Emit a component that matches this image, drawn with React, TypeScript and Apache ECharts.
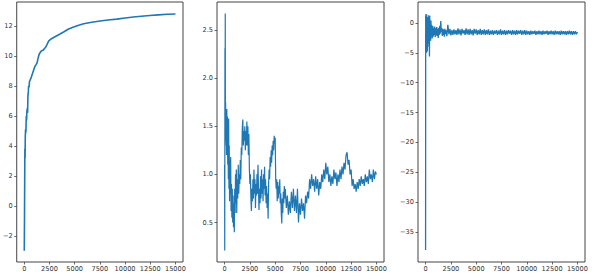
import React, { useEffect, useRef } from "react";
import * as echarts from "echarts";

// Tick positions shared by the three step axes
const stepTicks = [0, 2500, 5000, 7500, 10000, 12500, 15000];
const returnTicks = [-2, 0, 2, 4, 6, 8, 10, 12];
const lossTicks = [0.5, 1.0, 1.5, 2.0, 2.5];
const valueTicks = [-35, -30, -25, -20, -15, -10, -5, 0];

// Running mean return per training step
const meanReturn: [number, number][] = [
  [0, -3], [20, -1], [40, 1.5], [60, 3.8], [80, 3.2], [100, 4.6], [130, 5.1], [160, 4.9],
  [200, 6.0], [230, 5.7], [260, 6.3], [300, 6.5], [330, 6.2], [360, 7.3], [400, 7.6],
  [430, 8.0], [470, 7.9], [520, 8.3], [580, 8.4], [625, 8.45], [700, 8.6], [800, 8.8],
  [900, 9.0], [950, 9.1], [1050, 9.3], [1150, 9.4], [1280, 9.55], [1350, 9.8],
  [1450, 10.05], [1550, 10.2], [1650, 10.3], [1780, 10.37], [1900, 10.4], [2000, 10.5],
  [2100, 10.55], [2250, 10.75], [2430, 11.0], [2700, 11.15], [3090, 11.3], [3500, 11.45],
  [3900, 11.6], [4400, 11.8], [4900, 11.93], [5400, 12.05], [5890, 12.15], [6700, 12.25],
  [7530, 12.33], [8300, 12.4], [9180, 12.46], [10000, 12.53], [10820, 12.6],
  [11600, 12.65], [12470, 12.7], [13300, 12.74], [14200, 12.78], [15000, 12.8],
];

// Loss per training step
const loss: [number, number][] = [
  [0, 1.1], [15, 0.21], [35, 2.31], [50, 1.3], [65, 2.67], [80, 1.6], [100, 1.75],
  [130, 1.35], [160, 1.55], [190, 1.2], [220, 1.68], [250, 1.3], [280, 1.6], [310, 1.1],
  [340, 1.45], [370, 0.95], [400, 1.58], [430, 0.85], [460, 1.3], [490, 0.72], [520, 1.15],
  [560, 0.8], [600, 1.18], [640, 0.62], [680, 0.9], [720, 0.55], [760, 0.85], [800, 0.5],
  [840, 0.78], [880, 0.45], [920, 0.7], [960, 0.4], [1000, 0.85], [1040, 0.6], [1080, 1.0],
  [1120, 0.7], [1160, 1.05], [1200, 0.6], [1250, 0.95], [1300, 0.75], [1350, 1.1],
  [1400, 0.8], [1450, 1.0], [1500, 0.9], [1550, 1.15], [1600, 0.95], [1650, 1.28],
  [1700, 1.2], [1750, 1.48], [1800, 1.57], [1850, 1.3], [1900, 1.45], [1950, 1.35],
  [2000, 1.5], [2050, 1.25], [2100, 1.45], [2150, 1.3], [2200, 1.55], [2250, 1.3],
  [2300, 1.5], [2350, 1.2], [2400, 1.42], [2450, 1.05], [2500, 0.9], [2550, 1.0],
  [2600, 0.75], [2650, 0.62], [2700, 0.85], [2750, 0.72], [2800, 0.95], [2850, 0.75],
  [2900, 1.05], [2950, 0.8], [3000, 0.95], [3050, 0.65], [3100, 0.9], [3150, 0.78],
  [3200, 1.0], [3250, 0.8], [3300, 1.1], [3350, 0.85], [3400, 0.63], [3450, 0.85],
  [3500, 0.7], [3550, 0.98], [3600, 0.75], [3650, 1.05], [3700, 0.8], [3750, 0.95],
  [3800, 0.72], [3850, 1.0], [3900, 0.85], [3950, 1.08], [4000, 0.78], [4050, 0.95],
  [4100, 0.7], [4150, 0.88], [4200, 0.65], [4250, 0.8], [4300, 0.54], [4350, 0.9],
  [4400, 1.05], [4450, 0.95], [4500, 1.18], [4550, 1.08], [4600, 1.25], [4650, 1.12],
  [4700, 1.3], [4750, 1.2], [4800, 1.35], [4850, 1.25], [4900, 1.4], [4950, 1.32],
  [5000, 1.38], [5050, 0.95], [5100, 0.85], [5150, 0.95], [5200, 0.72], [5250, 0.92],
  [5300, 0.75], [5350, 0.88], [5400, 0.8], [5450, 0.95], [5500, 0.7], [5550, 0.8],
  [5600, 0.6], [5650, 0.49], [5700, 0.75], [5750, 0.6], [5800, 0.82], [5850, 0.7],
  [5900, 0.88], [5950, 0.75], [6000, 0.85], [6100, 0.65], [6200, 0.78], [6300, 0.58],
  [6400, 0.72], [6500, 0.6], [6600, 0.82], [6700, 0.65], [6800, 0.85], [6900, 0.62],
  [7000, 0.78], [7100, 0.6], [7200, 0.85], [7300, 0.5], [7400, 0.7], [7500, 0.58],
  [7600, 0.75], [7700, 0.62], [7800, 0.7], [7900, 0.54], [8000, 0.78], [8100, 0.7],
  [8200, 0.82], [8300, 0.75], [8400, 0.95], [8500, 0.85], [8600, 1.0], [8700, 0.88],
  [8800, 0.95], [8900, 0.82], [9000, 0.98], [9100, 0.85], [9200, 0.95], [9300, 0.78],
  [9400, 0.92], [9500, 0.85], [9600, 1.0], [9700, 0.92], [9800, 1.05], [9900, 0.95],
  [10000, 1.12], [10100, 1.0], [10200, 1.08], [10300, 0.92], [10400, 1.0], [10500, 0.88],
  [10600, 0.98], [10700, 0.9], [10800, 1.05], [10900, 0.95], [11000, 1.02], [11100, 0.88],
  [11200, 1.0], [11300, 0.92], [11400, 1.05], [11500, 0.95], [11600, 1.08], [11700, 1.0],
  [11800, 1.12], [11900, 1.05], [12000, 1.2], [12100, 1.23], [12200, 1.1], [12300, 1.15],
  [12400, 1.0], [12500, 1.05], [12600, 0.88], [12700, 0.95], [12800, 0.85], [12900, 0.9],
  [13000, 0.82], [13100, 0.92], [13200, 0.85], [13300, 0.95], [13400, 0.88], [13500, 0.98],
  [13600, 0.9], [13700, 0.95], [13800, 0.88], [13900, 1.0], [14000, 0.92], [14100, 0.98],
  [14200, 0.9], [14300, 1.05], [14400, 0.95], [14500, 1.0], [14600, 0.92], [14700, 1.05],
  [14800, 0.95], [14900, 1.03], [15000, 1.0],
];

// Value estimate per training step
const valueEstimate: [number, number][] = [
  [0, -38], [10, 1.2], [25, -4.5], [40, 1.5], [55, -3], [70, 0.8], [90, -5], [110, 1.4],
  [130, -2.5], [150, 0.5], [170, -4.8], [190, 1.0], [210, -1.5], [230, 0.2], [250, -3.5],
  [270, 0.9], [290, -1.8], [310, 1.3], [330, -4], [350, 0.3], [380, -5.6], [410, 1.2],
  [440, -2], [470, -0.2], [500, -3], [530, 0.4], [560, -2.2], [600, -0.3], [650, -2.6],
  [700, -0.5], [750, -2.3], [800, -0.8], [850, -2.0], [900, -0.6], [950, -2.4],
  [1000, -0.9], [1050, -2.1], [1100, -0.7], [1150, -2.2], [1200, -1.0], [1250, -2.5],
  [1300, -0.8], [1350, -2.0], [1400, -0.5], [1450, -1.8], [1500, 0.3], [1550, -1.5],
  [1600, -0.9], [1650, -2.2], [1700, -1.0], [1750, -2.0], [1800, -1.1], [1850, -2.3],
  [1900, -1.0], [1950, -1.9], [2000, -1.2], [2100, -2.2], [2200, -0.3], [2300, -1.9],
  [2400, -1.0], [2500, -2.1], [2600, -1.2], [2700, -2.0], [2800, -1.1], [2900, -1.9],
  [3000, -1.2], [3100, -2.0], [3200, -0.9], [3300, -1.9], [3400, -1.1], [3500, -2.1],
  [3600, -1.0], [3700, -1.8], [3800, -1.2], [3900, -2.0], [4000, -0.9], [4100, -1.9],
  [4200, -1.1], [4300, -2.0], [4400, -1.0], [4500, -1.9], [4600, -1.2], [4700, -2.1],
  [4800, -1.0], [4900, -1.8], [5000, -1.1], [5100, -2.0], [5200, -1.2], [5300, -1.9],
  [5400, -1.0], [5500, -2.0], [5600, -1.2], [5700, -1.9], [5800, -1.1], [5900, -2.0],
  [6000, -1.2], [6100, -1.9], [6200, -1.1], [6300, -2.0], [6400, -1.3], [6500, -1.9],
  [6600, -1.2], [6700, -2.0], [6800, -1.3], [6900, -1.8], [7000, -1.2], [7100, -2.0],
  [7200, -1.3], [7300, -1.9], [7400, -1.1], [7500, -2.0], [7600, -1.3], [7700, -1.9],
  [7800, -1.2], [7900, -2.0], [8000, -1.3], [8100, -1.9], [8200, -1.2], [8300, -1.8],
  [8400, -1.3], [8500, -2.0], [8600, -1.2], [8700, -1.9], [8800, -1.3], [8900, -2.0],
  [9000, -1.2], [9100, -1.9], [9200, -1.3], [9300, -1.8], [9400, -1.2], [9500, -2.0],
  [9600, -1.3], [9700, -1.9], [9800, -1.2], [9900, -2.0], [10000, -1.3], [10100, -1.9],
  [10200, -1.4], [10300, -2.0], [10400, -1.3], [10500, -1.9], [10600, -1.4], [10700, -1.8],
  [10800, -1.3], [10900, -2.0], [11000, -1.4], [11100, -1.9], [11200, -1.3], [11300, -1.9],
  [11400, -1.4], [11500, -2.0], [11600, -1.3], [11700, -1.9], [11800, -1.4], [11900, -1.8],
  [12000, -1.3], [12100, -2.0], [12200, -1.4], [12300, -1.9], [12400, -1.3], [12500, -1.9],
  [12600, -1.4], [12700, -2.0], [12800, -1.3], [12900, -1.9], [13000, -1.4], [13100, -1.9],
  [13200, -1.4], [13300, -2.0], [13400, -1.3], [13500, -1.9], [13600, -1.4], [13700, -1.9],
  [13800, -1.4], [13900, -2.0], [14000, -1.4], [14100, -1.9], [14200, -1.3], [14300, -1.9],
  [14400, -1.4], [14500, -2.0], [14600, -1.4], [14700, -1.9], [14800, -1.4], [14900, -1.9],
  [15000, -1.5],
];

const LINE = "#1f77b4";
const INK = "#444";
const FONT = "DejaVu Sans";

const minus = (s: string) => s.replace("-", "\u2212");

function makeXAxis(gridIndex: number) {
  return {
    type: "value",
    gridIndex,
    min: -750,
    max: 15750,
    splitLine: { show: false },
    axisLine: { show: false, onZero: false },
    axisTick: { show: true, customValues: stepTicks, length: 2.5, lineStyle: { color: INK, width: 0.8 } },
    axisLabel: {
      customValues: stepTicks,
      fontSize: 6.6,
      color: "#333",
      fontFamily: FONT,
      margin: 3,
      formatter: (v: number) => minus(String(v)),
    },
  };
}

function makeYAxis(gridIndex: number, min: number, max: number, ticks: number[], digits: number) {
  return {
    type: "value",
    gridIndex,
    min,
    max,
    splitLine: { show: false },
    axisLine: { show: false, onZero: false },
    axisTick: { show: true, customValues: ticks, length: 2.5, lineStyle: { color: INK, width: 0.8 } },
    axisLabel: {
      customValues: ticks,
      fontSize: 6.6,
      color: "#333",
      fontFamily: FONT,
      margin: 4,
      formatter: (v: number) => minus(v.toFixed(digits)),
    },
  };
}

function line(xAxisIndex: number, data: [number, number][], width: number) {
  return {
    type: "line",
    xAxisIndex,
    yAxisIndex: xAxisIndex,
    data,
    showSymbol: false,
    symbol: "none",
    lineStyle: { color: LINE, width },
    emphasis: { disabled: true },
  };
}

export default function App() {
  const ref = useRef<HTMLDivElement>(null);

  useEffect(() => {
    if (!ref.current) return;
    const chart = echarts.init(ref.current, undefined, { renderer: "svg" });
    const gridBase = { top: 2, height: 260, width: 167, show: true, borderColor: INK, borderWidth: 1, backgroundColor: "#fff" };
    chart.setOption({
      animation: false,
      backgroundColor: "#fff",
      grid: [
        { ...gridBase, left: 16 },
        { ...gridBase, left: 217 },
        { ...gridBase, left: 418 },
      ],
      xAxis: [makeXAxis(0), makeXAxis(1), makeXAxis(2)],
      yAxis: [
        makeYAxis(0, -3.75, 13.6, returnTicks, 0),
        makeYAxis(1, 0.09, 2.79, lossTicks, 1),
        makeYAxis(2, -40, 3.5, valueTicks, 0),
      ],
      series: [line(0, meanReturn, 1.6), line(1, loss, 1.2), line(2, valueEstimate, 1.3)],
    });
    return () => chart.dispose();
  }, []);

  return (
    <div
      ref={ref}
      style={{ position: "fixed", left: 0, top: 0, width: 596, height: 279 }}
    />
  );
}
